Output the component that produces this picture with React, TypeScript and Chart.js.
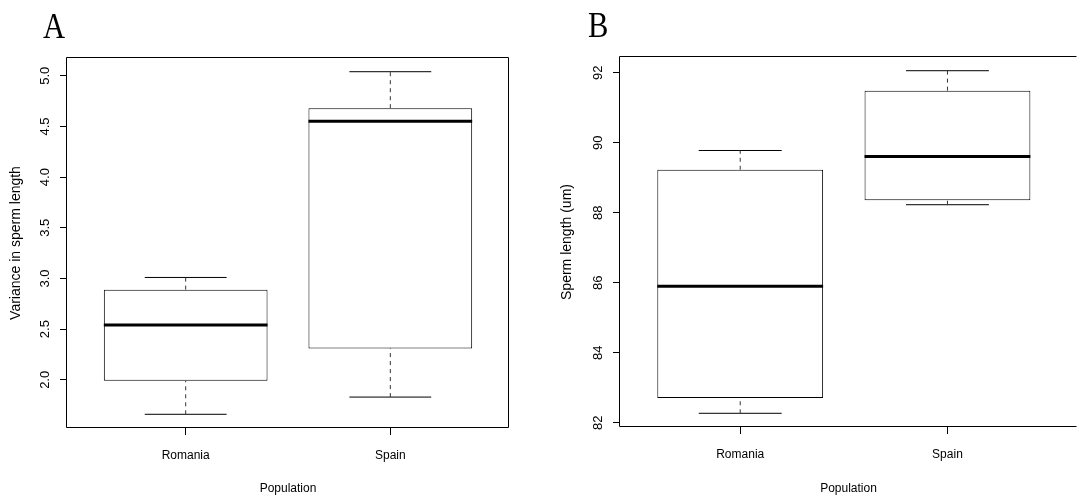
import { useEffect, useRef } from 'react';
import { Chart, registerables } from 'chart.js';

Chart.register(...registerables);

const categories = ['Romania', 'Spain'];

// Panel A: variance in sperm length, five-number summary per population
const varianceLow = [1.66, 1.83];
const varianceQ1 = [1.99, 2.31];
const varianceMedian = [2.54, 4.55];
const varianceQ3 = [2.89, 4.68];
const varianceHigh = [3.01, 5.04];
const varianceTicks = [2.0, 2.5, 3.0, 3.5, 4.0, 4.5, 5.0];

// Panel B: sperm length (um), five-number summary per population
const lengthLow = [82.27, 88.23];
const lengthQ1 = [82.71, 88.36];
const lengthMedian = [85.9, 89.61];
const lengthQ3 = [89.23, 91.49];
const lengthHigh = [89.78, 92.06];
const lengthTicks = [82, 84, 86, 88, 90, 92];

const SANS = "'Liberation Sans', Arial, Helvetica, sans-serif";
const SERIF = "'Liberation Serif', 'Times New Roman', serif";
const HEIGHT = 497;

type PanelSpec = {
  low: number[];
  q1: number[];
  median: number[];
  q3: number[];
  high: number[];
  yTicks: number[];
  yDecimals: number;
  yTitle: string;
  left: number;
  width: number;
  padding: { top: number; right: number; bottom: number; left: number };
  yAxisWidth: number;
  xAxisHeight: number;
  yTickPadding: number;
  yTitlePad: number;
  closeRight: boolean;
  xMax?: number;
};

// R-style axis range: data range widened by 4% on each side
function paddedRange(lo: number, hi: number): [number, number] {
  const pad = (hi - lo) * 0.04;
  return [lo - pad, hi + pad];
}

// Box around the plotting region
const framePlugin = {
  id: 'plotFrame',
  afterDraw(chart: any, _args: any, opts: any) {
    const { ctx, chartArea } = chart;
    const l = Math.round(chartArea.left) - 0.5;
    const t = Math.round(chartArea.top) - 0.5;
    const r = Math.round(chartArea.right) - 0.5;
    const b = Math.round(chartArea.bottom) - 0.5;
    ctx.save();
    ctx.strokeStyle = '#000';
    ctx.lineWidth = 1;
    ctx.beginPath();
    ctx.moveTo(r, t);
    ctx.lineTo(l, t);
    ctx.lineTo(l, b);
    ctx.lineTo(r, b);
    if (opts && opts.closeRight) ctx.lineTo(r, t);
    ctx.stroke();
    ctx.restore();
  },
};

function buildConfig(p: PanelSpec): any {
  const [yMin, yMax] = paddedRange(Math.min(...p.low), Math.max(...p.high));
  const [xMin, xMaxDefault] = paddedRange(0.5, categories.length + 0.5);
  const pos = categories.map((_, i) => i + 1);

  const lineBase = {
    type: 'line',
    pointRadius: 0,
    pointHoverRadius: 0,
    fill: false,
    tension: 0,
    order: 0,
  };
  const dashed = { ...lineBase, borderColor: '#333', borderWidth: 1, borderDash: [4, 4] };
  const solid = { ...lineBase, borderColor: '#000', borderWidth: 1 };

  const datasets: any[] = [
    {
      type: 'bar',
      label: 'Interquartile range',
      data: pos.map((x, i) => ({ x, y: [p.q1[i], p.q3[i]] })),
      backgroundColor: '#fff',
      borderColor: '#000',
      borderWidth: 1,
      borderSkipped: false,
      barPercentage: 0.8,
      categoryPercentage: 1,
      order: 1,
    },
  ];

  pos.forEach((x, i) => {
    datasets.push({ ...dashed, data: [{ x, y: p.q3[i] }, { x, y: p.high[i] }] });
    datasets.push({ ...dashed, data: [{ x, y: p.low[i] }, { x, y: p.q1[i] }] });
    datasets.push({ ...solid, data: [{ x: x - 0.2, y: p.high[i] }, { x: x + 0.2, y: p.high[i] }] });
    datasets.push({ ...solid, data: [{ x: x - 0.2, y: p.low[i] }, { x: x + 0.2, y: p.low[i] }] });
    datasets.push({
      ...solid,
      borderWidth: 3,
      data: [{ x: x - 0.4, y: p.median[i] }, { x: x + 0.4, y: p.median[i] }],
    });
  });

  const gridStyle = {
    display: true,
    offset: false,
    drawOnChartArea: false,
    drawTicks: true,
    tickLength: 7,
    color: '#000',
    lineWidth: 1,
  };

  return {
    type: 'bar',
    data: { datasets },
    plugins: [framePlugin],
    options: {
      responsive: false,
      animation: false,
      events: [],
      layout: { padding: p.padding },
      plugins: {
        legend: { display: false },
        tooltip: { enabled: false },
        plotFrame: { closeRight: p.closeRight },
      },
      scales: {
        x: {
          type: 'linear',
          min: xMin,
          max: p.xMax ?? xMaxDefault,
          offset: false,
          afterBuildTicks: (s: any) => {
            s.ticks = pos.map((v) => ({ value: v }));
          },
          afterFit: (s: any) => {
            s.height = p.xAxisHeight;
          },
          ticks: {
            callback: (v: any) => categories[Math.round(Number(v)) - 1] ?? '',
            font: { family: SANS, size: 12 },
            color: '#000',
            padding: 13,
            minRotation: 0,
            maxRotation: 0,
            autoSkip: false,
          },
          grid: gridStyle,
          border: { display: false },
          title: {
            display: true,
            text: 'Population',
            color: '#000',
            font: { family: SANS, size: 12 },
            padding: { top: 0, bottom: 1 },
          },
        },
        y: {
          type: 'linear',
          min: yMin,
          max: yMax,
          beginAtZero: false,
          afterBuildTicks: (s: any) => {
            s.ticks = p.yTicks.map((v) => ({ value: v }));
          },
          afterFit: (s: any) => {
            s.width = p.yAxisWidth;
          },
          ticks: {
            callback: (v: any) => Number(v).toFixed(p.yDecimals),
            font: { family: SANS, size: 13 },
            color: '#000',
            padding: p.yTickPadding,
            minRotation: 90,
            maxRotation: 90,
            crossAlign: 'center',
            autoSkip: false,
          },
          grid: gridStyle,
          border: { display: false },
          title: {
            display: true,
            text: p.yTitle,
            color: '#000',
            font: { family: SANS, size: 14 },
            padding: { top: p.yTitlePad, bottom: 0 },
          },
        },
      },
    },
  };
}

const panelA: PanelSpec = {
  low: varianceLow,
  q1: varianceQ1,
  median: varianceMedian,
  q3: varianceQ3,
  high: varianceHigh,
  yTicks: varianceTicks,
  yDecimals: 1,
  yTitle: 'Variance in sperm length',
  left: 0,
  width: 540,
  padding: { top: 58, right: 31, bottom: 0, left: 0 },
  yAxisWidth: 67,
  xAxisHeight: 69,
  yTickPadding: 6,
  yTitlePad: 8,
  closeRight: true,
};

const panelB: PanelSpec = {
  low: lengthLow,
  q1: lengthQ1,
  median: lengthMedian,
  q3: lengthQ3,
  high: lengthHigh,
  yTicks: lengthTicks,
  yDecimals: 0,
  yTitle: 'Sperm length (um)',
  left: 540,
  width: 537,
  padding: { top: 57, right: 0, bottom: 0, left: 0 },
  yAxisWidth: 80,
  xAxisHeight: 70,
  yTickPadding: 7,
  yTitlePad: 19,
  closeRight: false,
  xMax: 2.625,
};

function BoxPanel({ spec }: { spec: PanelSpec }) {
  const ref = useRef<HTMLCanvasElement>(null);
  useEffect(() => {
    if (!ref.current) return;
    const chart = new Chart(ref.current, buildConfig(spec));
    return () => chart.destroy();
  }, [spec]);
  return (
    <canvas
      ref={ref}
      width={spec.width}
      height={HEIGHT}
      style={{ position: 'absolute', left: spec.left, top: 0, width: spec.width, height: HEIGHT }}
    />
  );
}

const letterStyle = {
  position: 'absolute' as const,
  fontFamily: SERIF,
  fontSize: 36,
  lineHeight: '36px',
  color: '#000',
  transform: 'scaleX(0.85)',
  transformOrigin: 'left top',
};

export default function App() {
  return (
    <div
      style={{
        position: 'fixed',
        left: 0,
        top: 0,
        width: 1077,
        height: HEIGHT,
        overflow: 'hidden',
        background: '#fff',
      }}
    >
      <BoxPanel spec={panelA} />
      <BoxPanel spec={panelB} />
      <div style={{ ...letterStyle, left: 43, top: 8 }}>A</div>
      <div style={{ ...letterStyle, left: 588, top: 7 }}>B</div>
    </div>
  );
}
